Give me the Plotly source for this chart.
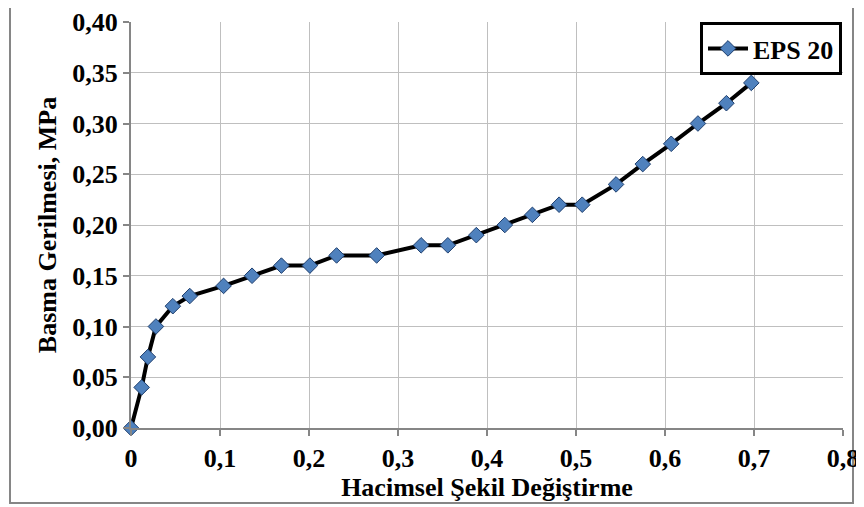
import plotly.graph_objects as go

x_vals = [0.0, 0.012, 0.019, 0.028, 0.047, 0.066, 0.104, 0.136, 0.169, 0.201, 0.231,
          0.276, 0.326, 0.356, 0.388, 0.420, 0.451, 0.481, 0.507, 0.545, 0.575,
          0.607, 0.637, 0.669, 0.697]
y_vals = [0.00, 0.04, 0.07, 0.10, 0.12, 0.13, 0.14, 0.15, 0.16, 0.16, 0.17,
          0.17, 0.18, 0.18, 0.19, 0.20, 0.21, 0.22, 0.22, 0.24, 0.26,
          0.28, 0.30, 0.32, 0.34]
series_name = "EPS 20"
x_ticks = [0, 0.1, 0.2, 0.3, 0.4, 0.5, 0.6, 0.7, 0.8]
x_ticklabels = ["0", "0,1", "0,2", "0,3", "0,4", "0,5", "0,6", "0,7", "0,8"]
y_ticks = [0, 0.05, 0.10, 0.15, 0.20, 0.25, 0.30, 0.35, 0.40]
y_ticklabels = ["0,00", "0,05", "0,10", "0,15", "0,20", "0,25", "0,30", "0,35", "0,40"]

# page is offset by the default 8px body margin
OFF = 8
W, H = 864 - OFF, 507 - OFF
L, R, T, B = 131, 843, 22, 428  # plot area in page pixels

FF = "Liberation Serif"

fig = go.Figure()
fig.add_trace(go.Scatter(
    x=x_vals, y=y_vals, name="<b>%s</b>" % series_name, mode="lines+markers",
    line=dict(color="black", width=4),
    marker=dict(symbol="diamond", size=12, color="#4f81bd",
                line=dict(color="#1f3f6e", width=1)),
    cliponaxis=False,
))

def px_x(p):
    return (p - L) / (R - L)

def px_y(p):
    return (B - p) / (B - T)

tickfont = dict(family=FF, size=26, color="black", weight="bold")

fig.update_layout(
    width=W, height=H,
    margin=dict(l=L - OFF, r=864 - R, t=T - OFF, b=507 - B, autoexpand=False),
    paper_bgcolor="white", plot_bgcolor="white",
    font=dict(family=FF, color="black", size=18),
    showlegend=True,
    legend=dict(
        x=px_x(700), y=px_y(22), xanchor="left", yanchor="top",
        bgcolor="white", bordercolor="black", borderwidth=3,
        font=dict(family=FF, size=26, color="black"),
        itemwidth=40, tracegroupgap=0,
    ),
    xaxis=dict(
        range=[0, 0.8], tickvals=x_ticks, ticktext=x_ticklabels,
        showgrid=True, gridcolor="#bfbfbf", gridwidth=1,
        showline=True, linecolor="#868686", linewidth=2,
        ticks="outside", ticklen=6, tickcolor="#868686", tickwidth=2,
        tickfont=tickfont, automargin=False,
        zeroline=False,
        title=dict(text="<b>Hacimsel Şekil Değiştirme</b>", standoff=3,
                   font=dict(family=FF, size=26, color="black")),
    ),
    yaxis=dict(
        range=[0, 0.4], tickvals=y_ticks, ticktext=y_ticklabels,
        showgrid=True, gridcolor="#bfbfbf", gridwidth=1,
        showline=True, linecolor="#868686", linewidth=2,
        ticks="outside", ticklen=6, tickcolor="#868686", tickwidth=2,
        tickfont=tickfont, automargin=False,
        zeroline=False,
        title=dict(text="<b>Basma Gerilmesi, MPa</b>", standoff=8,
                   font=dict(family=FF, size=26, color="black")),
    ),
)

# outer chart border
fig.add_shape(type="rect", xref="paper", yref="paper",
              x0=px_x(10), x1=px_x(853), y0=px_y(503), y1=px_y(5),
              line=dict(color="#868686", width=2), fillcolor="rgba(0,0,0,0)",
              layer="below")

fig.write_html("out.html")
